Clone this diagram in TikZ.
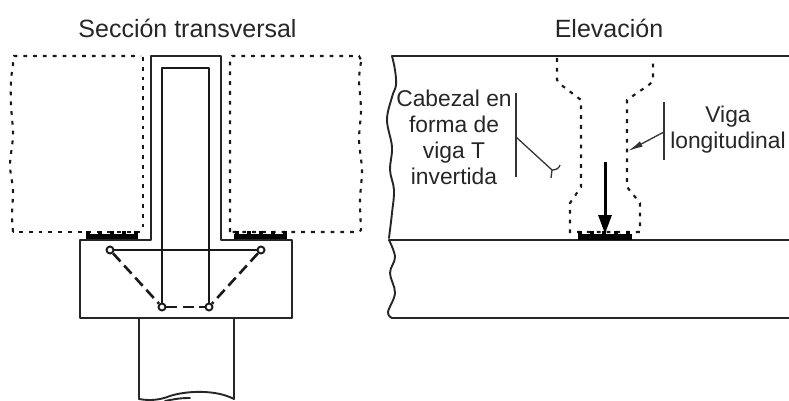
\documentclass[tikz,border=0pt]{standalone}
\usepackage{fontspec}
\setmainfont{Liberation Sans}
\usetikzlibrary{arrows.meta}
\tikzset{
 solid line/.style={line width=1.9pt,line join=round,line cap=round,draw=black!85},
 bar line/.style={line width=2.6pt,line join=round,draw=black!90},
 thin line/.style={line width=1.3pt,draw=black!80},
 dot line/.style={line width=2.1pt,dash pattern=on 3.8pt off 6pt,draw=black!90},
 long dash/.style={line width=2.6pt,dash pattern=on 11pt off 5.5pt,draw=black!90},
 pad/.style={fill=black,draw=none},
 rebar/.style={circle,draw=black!90,fill=white,line width=1.9pt,inner sep=0pt,minimum size=7pt},
 lab/.style={font=\fontsize{22.8}{26}\selectfont,align=center,inner sep=0pt,text=black!85},
 ttl/.style={font=\fontsize{25}{26}\selectfont,inner sep=0pt,text=black!85},
}
\begin{document}
\begin{tikzpicture}[x=1pt,y=-1pt]
\useasboundingbox (0,0) rectangle (789,401);
% titles
\node[ttl] (t1) at (187.5,28) {Sección transversal};
\node[ttl] (t2) at (609,28) {Elevación};
% dotted side beams
\draw[dot line] plot[smooth,tension=0.5] coordinates {(13,232)(12,215)(13,190)(10,165)(13,135)(11,105)(11,80)(13,65)(13,58)} -- (14,56) -- (141,56);
\draw[dot line] (143,57) -- (143,230) -- (141,232) -- (13,232);
\draw[dot line] (230,232) -- (230,58) -- (232,56) -- (359,56) -- (361,60);
\draw[dot line] plot[smooth,tension=0.5] coordinates {(361,62)(359,80)(361,110)(359,140)(362,170)(360,200)(361,230)} -- (359,232) -- (230,232);
% bearing pads
\fill[pad] (86,233.5) rectangle (138,240);
\fill[pad] (234,233.5) rectangle (287,240);
\foreach \x in {86,98,110,122,134}{\fill[pad] (\x,230.5) rectangle +(4,4);}
\foreach \x in {235,247,259,271,283}{\fill[pad] (\x,230.5) rectangle +(4,4);}
% inverted T section
\draw[solid line] (151,240) -- (151,56) -- (221,56) -- (221,240) -- (292,240) -- (292,318) -- (80,318) -- (80,240) -- cycle;
% column
\draw[solid line] (139,318) -- (139,399);
\draw[solid line] (234,318) -- (234,399);
\draw[solid line] (139,399) .. controls (150,401) and (160,400) .. (170,396) .. controls (185,391) and (215,389) .. (234,399);
\draw[solid line] (165,401) .. controls (175,399) and (180,398) .. (190,398);
% reinforcement
\node[rebar] (r1) at (110,250) {};
\node[rebar] (r2) at (261,250) {};
\node[rebar] (r3) at (162,307) {};
\node[rebar] (r4) at (209,307) {};
\draw[bar line] (r3) -- (162,68) -- (209,68) -- (r4);
\draw[bar line] (r1) -- (r2);
\draw[long dash] (r1) -- (r3);
\draw[long dash] (r3) -- (r4);
\draw[long dash] (r2) -- (r4);
% elevation
\draw[solid line] (392,56) -- (789,56);
\draw[solid line] (389,240) -- (789,240);
\draw[solid line] (392,318) -- (789,318);
\draw[solid line] plot[smooth,tension=0.6] coordinates {(392,56)(395,70)(396,85)(392,97)(387,120)(392,147)(390,170)(394,190)(392,213)(389,238)};
\draw[solid line] plot[smooth,tension=0.6] coordinates {(389,240)(395,257)(390,273)(395,293)(388,312)(392,318)};
% dotted beam in elevation
\draw[dot line] (557,58) -- (557,80) -- (560,84) -- (581,100) -- (581,187) -- (570,203) -- (570,232) -- (640,232) -- (640,203) -- (627,187) -- (627,100) -- (650,84) -- (653,80) -- (653,58);
% elevation pad
\fill[pad] (578,233.5) rectangle (632,240);
\foreach \x in {578,590,602,614,626}{\fill[pad] (\x,230.5) rectangle +(4,4);}
% load arrow
\coordinate (la) at (605,162);
\coordinate (lb) at (605,234);
\draw[line width=3pt,-{Triangle[length=19pt,width=13pt]}] (la) -- (lb);
% left label
\node[lab] (cab) at (454,137) {Cabezal en\\forma de\\viga T\\invertida};
\coordinate (l1) at (516,93);
\coordinate (l2) at (516,177);
\coordinate (l3) at (516,137);
\coordinate (l4) at (552,170);
\draw[thin line] (l1) -- (l2);
\draw[thin line] (l3) -- (l4);
\draw[thin line] (560,165) .. controls (559,169) and (555,170) .. (l4) -- (551,178);
% right label
\node[lab] (vig) at (728,130) {Viga\\longitudinal};
\coordinate (m1) at (664,102);
\coordinate (m2) at (664,160);
\coordinate (m3) at (664,132);
\coordinate (m4) at (628,151);
\draw[thin line] (m1) -- (m2);
\draw[thin line,-{Latex[length=15pt,width=6pt]}] (m3) -- (m4);
\end{tikzpicture}
\end{document}
